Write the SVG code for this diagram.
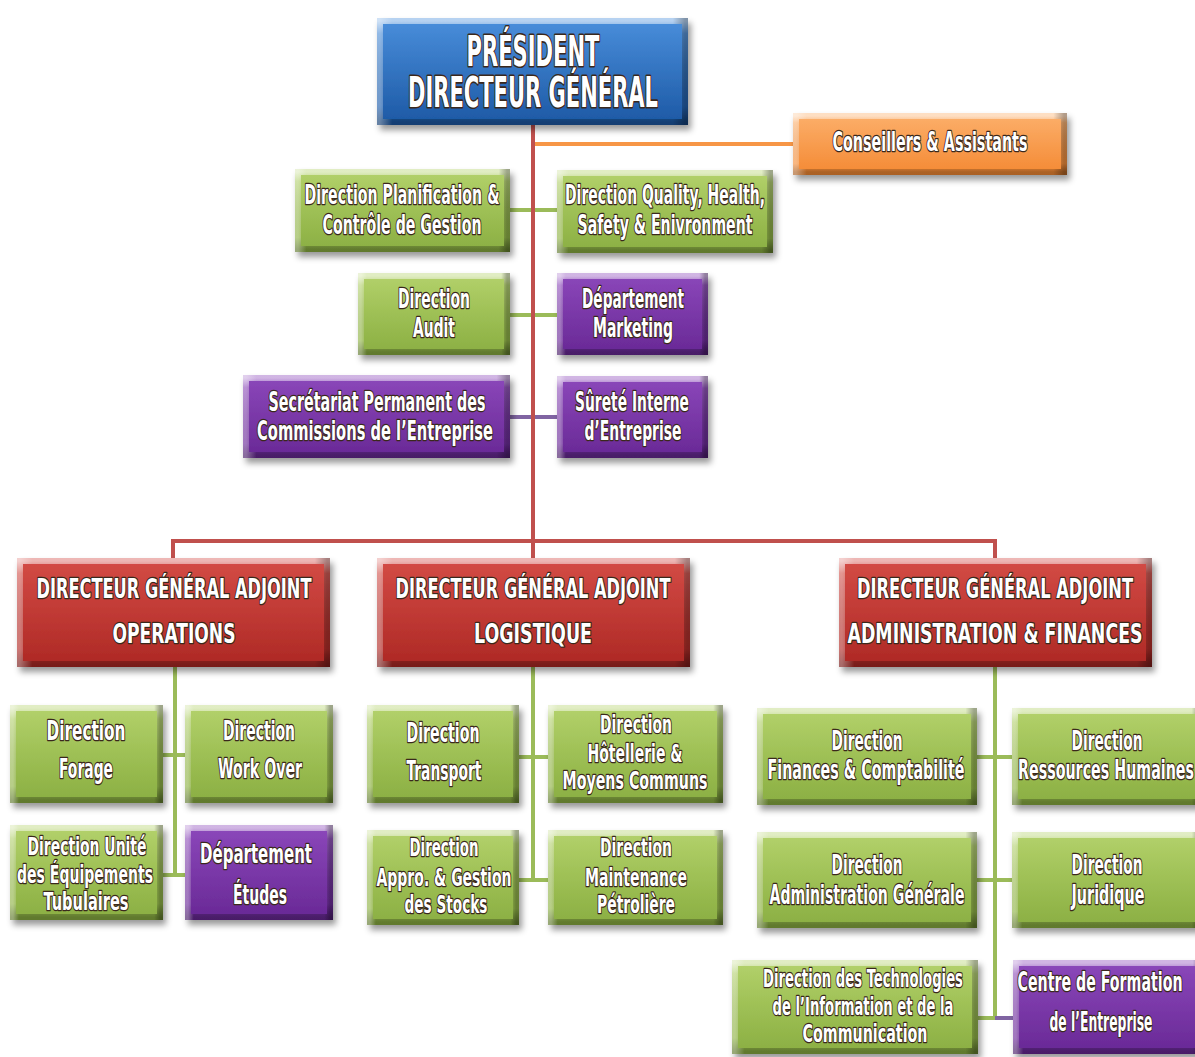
<svg xmlns="http://www.w3.org/2000/svg" width="1195" height="1057" viewBox="0 0 1195 1057">
<defs>
<linearGradient id="gBlue" x1="0" y1="0" x2="0" y2="1"><stop offset="0" stop-color="#4a8fdc"/><stop offset="1" stop-color="#1c58a4"/></linearGradient>
<linearGradient id="gGreen" x1="0" y1="0" x2="0" y2="1"><stop offset="0" stop-color="#b4d26c"/><stop offset="0.5" stop-color="#9ec055"/><stop offset="1" stop-color="#8aae42"/></linearGradient>
<linearGradient id="gRed" x1="0" y1="0" x2="0" y2="1"><stop offset="0" stop-color="#d44c46"/><stop offset="1" stop-color="#ad2824"/></linearGradient>
<linearGradient id="gPurple" x1="0" y1="0" x2="0" y2="1"><stop offset="0" stop-color="#8c48bb"/><stop offset="1" stop-color="#682895"/></linearGradient>
<linearGradient id="gOrange" x1="0" y1="0" x2="0" y2="1"><stop offset="0" stop-color="#fcb06c"/><stop offset="1" stop-color="#f48933"/></linearGradient>
<linearGradient id="bev" x1="0" y1="0" x2="0" y2="1"><stop offset="0" stop-color="#fff" stop-opacity="0.6"/><stop offset="0.12" stop-color="#fff" stop-opacity="0.12"/><stop offset="0.85" stop-color="#000" stop-opacity="0"/><stop offset="1" stop-color="#000" stop-opacity="0.3"/></linearGradient>
<linearGradient id="bevR" x1="0" y1="0" x2="1" y2="0"><stop offset="0" stop-color="#fff" stop-opacity="0.35"/><stop offset="0.04" stop-color="#fff" stop-opacity="0"/><stop offset="0.96" stop-color="#000" stop-opacity="0"/><stop offset="1" stop-color="#000" stop-opacity="0.3"/></linearGradient>
<filter id="sh" x="-10%" y="-10%" width="125%" height="135%"><feDropShadow dx="3" dy="5" stdDeviation="3" flood-color="#000" flood-opacity="0.4"/></filter>
</defs>
<style>
.b{filter:url(#sh)}
.bl{fill:url(#gBlue)}.gr{fill:url(#gGreen)}.rd{fill:url(#gRed)}.pu{fill:url(#gPurple)}.or{fill:url(#gOrange)}
.bv{fill:none;stroke:url(#bev);stroke-width:6}
.bh{fill:none;stroke:url(#bevR);stroke-width:6}
text{font-family:"Liberation Sans Narrow","Arial Narrow","DejaVu Sans Condensed","Liberation Sans",sans-serif;font-weight:bold;font-size:26px;fill:#fff;stroke:#3a281c;stroke-width:2.6;stroke-linejoin:round;paint-order:stroke fill;text-anchor:middle}
.big{font-size:43px;stroke-width:3.2}
.s3{font-size:25px}
.c{fill:none;stroke-width:4}
.cr{stroke:#c0504d}.cg{stroke:#9bbb59}.co{stroke:#f79646}.cp{stroke:#8064a2}
</style>
<g id="connectors">
<path class="c co" d="M533,144 H793"/>
<path class="c cg" d="M510,210 H557 M510,315 H557"/>
<path class="c cp" d="M510,417 H557"/>
<path class="c cr" d="M533,125 V541 M173,558 V541 H995 V558 M533,541 V558"/>
<path class="c cg" d="M175,667 V875 M163,755 H185 M163,875 H185"/>
<path class="c cg" d="M533,667 V880 M519,757 H548 M519,880 H548"/>
<path class="c cg" d="M995,667 V1018 M977,757 H1012 M977,880 H1012 M978,1018 H995"/>
<path class="c cp" d="M995,1018 H1013"/>
</g>
<g id="pdg"><g class="b"><rect class="bl" x="377" y="18" width="311" height="107"/></g><rect class="bv" x="380" y="21" width="305" height="101"/><rect class="bh" x="380" y="21" width="305" height="101"/>
<text class="big" x="533" y="66" textLength="133" lengthAdjust="spacingAndGlyphs">PRÉSIDENT</text>
<text class="big" x="533" y="107" textLength="250" lengthAdjust="spacingAndGlyphs">DIRECTEUR GÉNÉRAL</text></g>
<g id="cons"><g class="b"><rect class="or" x="793" y="113" width="274" height="62"/></g><rect class="bv" x="796" y="116" width="268" height="56"/><rect class="bh" x="796" y="116" width="268" height="56"/>
<text x="930" y="151" textLength="195" lengthAdjust="spacingAndGlyphs">Conseillers &amp; Assistants</text></g>
<g id="plan"><g class="b"><rect class="gr" x="295" y="169" width="215" height="83"/></g><rect class="bv" x="298" y="172" width="209" height="77"/><rect class="bh" x="298" y="172" width="209" height="77"/>
<text x="402" y="204" textLength="195" lengthAdjust="spacingAndGlyphs">Direction Planification &amp;</text>
<text x="402" y="234" textLength="159" lengthAdjust="spacingAndGlyphs">Contrôle de Gestion</text></g>
<g id="qhse"><g class="b"><rect class="gr" x="557" y="170" width="216" height="83"/></g><rect class="bv" x="560" y="173" width="210" height="77"/><rect class="bh" x="560" y="173" width="210" height="77"/>
<text x="665" y="204" textLength="200" lengthAdjust="spacingAndGlyphs">Direction Quality, Health,</text>
<text x="665" y="234" textLength="175" lengthAdjust="spacingAndGlyphs">Safety &amp; Enivronment</text></g>
<g id="audit"><g class="b"><rect class="gr" x="358" y="273" width="152" height="82"/></g><rect class="bv" x="361" y="276" width="146" height="76"/><rect class="bh" x="361" y="276" width="146" height="76"/>
<text x="434" y="308" textLength="72" lengthAdjust="spacingAndGlyphs">Direction</text>
<text x="434" y="337" textLength="42" lengthAdjust="spacingAndGlyphs">Audit</text></g>
<g id="mkt"><g class="b"><rect class="pu" x="557" y="273" width="151" height="82"/></g><rect class="bv" x="560" y="276" width="145" height="76"/><rect class="bh" x="560" y="276" width="145" height="76"/>
<text x="633" y="308" textLength="102" lengthAdjust="spacingAndGlyphs">Département</text>
<text x="633" y="337" textLength="80" lengthAdjust="spacingAndGlyphs">Marketing</text></g>
<g id="sec"><g class="b"><rect class="pu" x="243" y="375" width="267" height="83"/></g><rect class="bv" x="246" y="378" width="261" height="77"/><rect class="bh" x="246" y="378" width="261" height="77"/>
<text x="377" y="411" textLength="217" lengthAdjust="spacingAndGlyphs">Secrétariat Permanent des</text>
<text x="375" y="440" textLength="236" lengthAdjust="spacingAndGlyphs">Commissions de l’Entreprise</text></g>
<g id="sur"><g class="b"><rect class="pu" x="557" y="376" width="151" height="82"/></g><rect class="bv" x="560" y="379" width="145" height="76"/><rect class="bh" x="560" y="379" width="145" height="76"/>
<text x="632" y="411" textLength="114" lengthAdjust="spacingAndGlyphs">Sûreté Interne</text>
<text x="633" y="440" textLength="97" lengthAdjust="spacingAndGlyphs">d’Entreprise</text></g>
<g id="dga1"><g class="b"><rect class="rd" x="17" y="558" width="313" height="109"/></g><rect class="bv" x="20" y="561" width="307" height="103"/><rect class="bh" x="20" y="561" width="307" height="103"/>
<text x="174" y="598" textLength="275" lengthAdjust="spacingAndGlyphs">DIRECTEUR GÉNÉRAL ADJOINT</text>
<text x="174" y="643" textLength="123" lengthAdjust="spacingAndGlyphs">OPERATIONS</text></g>
<g id="dga2"><g class="b"><rect class="rd" x="377" y="558" width="313" height="109"/></g><rect class="bv" x="380" y="561" width="307" height="103"/><rect class="bh" x="380" y="561" width="307" height="103"/>
<text x="533" y="598" textLength="275" lengthAdjust="spacingAndGlyphs">DIRECTEUR GÉNÉRAL ADJOINT</text>
<text x="533" y="643" textLength="118" lengthAdjust="spacingAndGlyphs">LOGISTIQUE</text></g>
<g id="dga3"><g class="b"><rect class="rd" x="839" y="558" width="313" height="109"/></g><rect class="bv" x="842" y="561" width="307" height="103"/><rect class="bh" x="842" y="561" width="307" height="103"/>
<text x="995" y="598" textLength="276" lengthAdjust="spacingAndGlyphs">DIRECTEUR GÉNÉRAL ADJOINT</text>
<text x="995" y="643" textLength="295" lengthAdjust="spacingAndGlyphs">ADMINISTRATION &amp; FINANCES</text></g>
<g id="forage"><g class="b"><rect class="gr" x="10" y="705" width="153" height="98"/></g><rect class="bv" x="13" y="708" width="147" height="92"/><rect class="bh" x="13" y="708" width="147" height="92"/>
<text x="86" y="740" textLength="79" lengthAdjust="spacingAndGlyphs">Direction</text>
<text x="86" y="778" textLength="54" lengthAdjust="spacingAndGlyphs">Forage</text></g>
<g id="wo"><g class="b"><rect class="gr" x="185" y="705" width="148" height="98"/></g><rect class="bv" x="188" y="708" width="142" height="92"/><rect class="bh" x="188" y="708" width="142" height="92"/>
<text x="259" y="740" textLength="72" lengthAdjust="spacingAndGlyphs">Direction</text>
<text x="260" y="778" textLength="84" lengthAdjust="spacingAndGlyphs">Work Over</text></g>
<g id="unite"><g class="b"><rect class="gr" x="10" y="825" width="153" height="95"/></g><rect class="bv" x="13" y="828" width="147" height="89"/><rect class="bh" x="13" y="828" width="147" height="89"/>
<text class="s3" x="87" y="855" textLength="119" lengthAdjust="spacingAndGlyphs">Direction Unité</text>
<text class="s3" x="85" y="883" textLength="136" lengthAdjust="spacingAndGlyphs">des Équipements</text>
<text class="s3" x="86" y="910" textLength="85" lengthAdjust="spacingAndGlyphs">Tubulaires</text></g>
<g id="etudes"><g class="b"><rect class="pu" x="185" y="825" width="148" height="95"/></g><rect class="bv" x="188" y="828" width="142" height="89"/><rect class="bh" x="188" y="828" width="142" height="89"/>
<text x="256" y="863" textLength="112" lengthAdjust="spacingAndGlyphs">Département</text>
<text x="260" y="904" textLength="54" lengthAdjust="spacingAndGlyphs">Études</text></g>
<g id="transp"><g class="b"><rect class="gr" x="367" y="705" width="152" height="98"/></g><rect class="bv" x="370" y="708" width="146" height="92"/><rect class="bh" x="370" y="708" width="146" height="92"/>
<text x="443" y="742" textLength="73" lengthAdjust="spacingAndGlyphs">Direction</text>
<text x="444" y="780" textLength="75" lengthAdjust="spacingAndGlyphs">Transport</text></g>
<g id="hot"><g class="b"><rect class="gr" x="548" y="705" width="175" height="98"/></g><rect class="bv" x="551" y="708" width="169" height="92"/><rect class="bh" x="551" y="708" width="169" height="92"/>
<text class="s3" x="636" y="733" textLength="72" lengthAdjust="spacingAndGlyphs">Direction</text>
<text class="s3" x="635" y="762" textLength="95" lengthAdjust="spacingAndGlyphs">Hôtellerie &amp;</text>
<text class="s3" x="635" y="789" textLength="145" lengthAdjust="spacingAndGlyphs">Moyens Communs</text></g>
<g id="appro"><g class="b"><rect class="gr" x="367" y="830" width="152" height="95"/></g><rect class="bv" x="370" y="833" width="146" height="89"/><rect class="bh" x="370" y="833" width="146" height="89"/>
<text class="s3" x="444" y="856" textLength="69" lengthAdjust="spacingAndGlyphs">Direction</text>
<text class="s3" x="444" y="886" textLength="135" lengthAdjust="spacingAndGlyphs">Appro. &amp; Gestion</text>
<text class="s3" x="446" y="913" textLength="83" lengthAdjust="spacingAndGlyphs">des Stocks</text></g>
<g id="maint"><g class="b"><rect class="gr" x="548" y="830" width="175" height="95"/></g><rect class="bv" x="551" y="833" width="169" height="89"/><rect class="bh" x="551" y="833" width="169" height="89"/>
<text class="s3" x="636" y="856" textLength="72" lengthAdjust="spacingAndGlyphs">Direction</text>
<text class="s3" x="636" y="886" textLength="102" lengthAdjust="spacingAndGlyphs">Maintenance</text>
<text class="s3" x="636" y="913" textLength="78" lengthAdjust="spacingAndGlyphs">Pétrolière</text></g>
<g id="fin"><g class="b"><rect class="gr" x="757" y="708" width="220" height="97"/></g><rect class="bv" x="760" y="711" width="214" height="91"/><rect class="bh" x="760" y="711" width="214" height="91"/>
<text x="867" y="750" textLength="71" lengthAdjust="spacingAndGlyphs">Direction</text>
<text x="866" y="779" textLength="197" lengthAdjust="spacingAndGlyphs">Finances &amp; Comptabilité</text></g>
<g id="rh"><g class="b"><rect class="gr" x="1012" y="708" width="190" height="97"/></g><rect class="bv" x="1015" y="711" width="184" height="91"/><rect class="bh" x="1015" y="711" width="184" height="91"/>
<text x="1107" y="750" textLength="71" lengthAdjust="spacingAndGlyphs">Direction</text>
<text x="1106" y="779" textLength="176" lengthAdjust="spacingAndGlyphs">Ressources Humaines</text></g>
<g id="adm"><g class="b"><rect class="gr" x="757" y="832" width="220" height="96"/></g><rect class="bv" x="760" y="835" width="214" height="90"/><rect class="bh" x="760" y="835" width="214" height="90"/>
<text x="867" y="874" textLength="71" lengthAdjust="spacingAndGlyphs">Direction</text>
<text x="867" y="904" textLength="195" lengthAdjust="spacingAndGlyphs">Administration Générale</text></g>
<g id="jur"><g class="b"><rect class="gr" x="1012" y="832" width="190" height="96"/></g><rect class="bv" x="1015" y="835" width="184" height="90"/><rect class="bh" x="1015" y="835" width="184" height="90"/>
<text x="1107" y="874" textLength="71" lengthAdjust="spacingAndGlyphs">Direction</text>
<text x="1108" y="904" textLength="73" lengthAdjust="spacingAndGlyphs">Juridique</text></g>
<g id="tic"><g class="b"><rect class="gr" x="732" y="960" width="246" height="94"/></g><rect class="bv" x="735" y="963" width="240" height="88"/><rect class="bh" x="735" y="963" width="240" height="88"/>
<text class="s3" x="863" y="987" textLength="200" lengthAdjust="spacingAndGlyphs">Direction des Technologies</text>
<text class="s3" x="863" y="1015" textLength="181" lengthAdjust="spacingAndGlyphs">de l’Information et de la</text>
<text class="s3" x="865" y="1042" textLength="125" lengthAdjust="spacingAndGlyphs">Communication</text></g>
<g id="cfe"><g class="b"><rect class="pu" x="1013" y="960" width="190" height="94"/></g><rect class="bv" x="1016" y="963" width="184" height="88"/><rect class="bh" x="1016" y="963" width="184" height="88"/>
<text x="1100" y="991" textLength="165" lengthAdjust="spacingAndGlyphs">Centre de Formation</text>
<text x="1101" y="1031" textLength="103" lengthAdjust="spacingAndGlyphs">de l’Entreprise</text></g>
</svg>
